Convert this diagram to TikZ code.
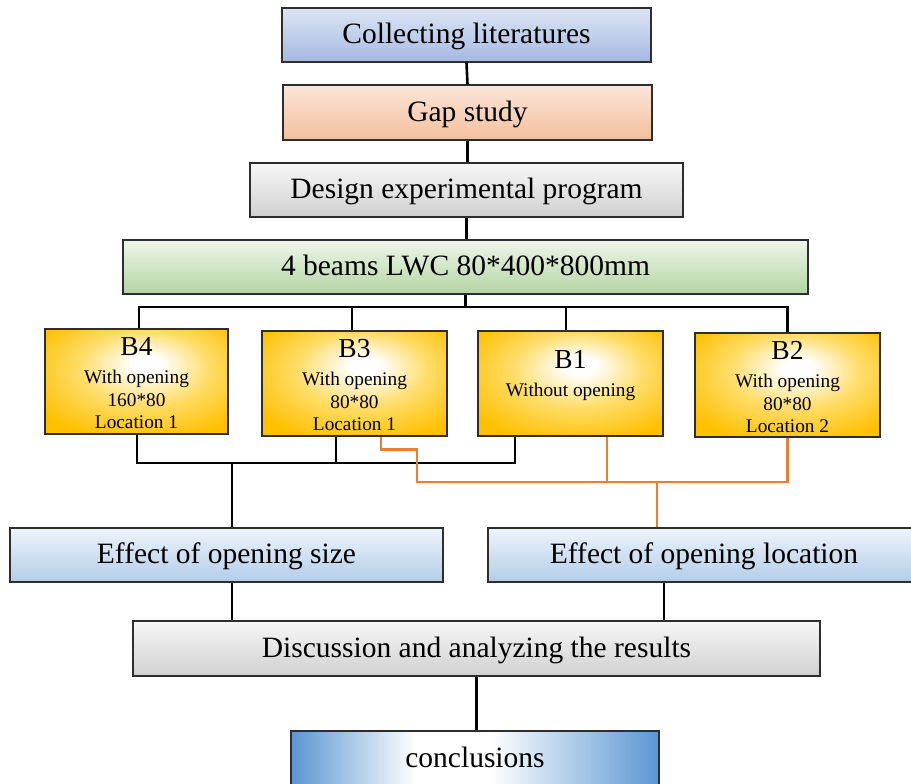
\documentclass[tikz,border=0pt]{standalone}
\usepackage{fontspec}
\setmainfont{Liberation Serif}
\definecolor{boxline}{HTML}{2E2E2E}
\definecolor{litT}{HTML}{DCE5F5}
\definecolor{litB}{HTML}{A4B9E1}
\definecolor{gapT}{HTML}{FBE6D9}
\definecolor{gapB}{HTML}{F4BF9C}
\definecolor{grayT}{HTML}{F7F7F7}
\definecolor{grayB}{HTML}{D0D0D0}
\definecolor{greenT}{HTML}{EFF6EB}
\definecolor{greenB}{HTML}{B3D5A2}
\definecolor{effT}{HTML}{EEF4FB}
\definecolor{effB}{HTML}{B2CDE8}
\definecolor{conclE}{HTML}{5A96D2}
\definecolor{beamO}{HTML}{FFC000}
\definecolor{beamM}{HTML}{FFDC66}
\definecolor{orangeline}{HTML}{ED7D31}
\pgfdeclareradialshading{beamshade}{\pgfpoint{3bp}{9bp}}{color(0bp)=(white); color(4bp)=(white); color(18bp)=(beamM); color(33bp)=(beamO); color(60bp)=(beamO)}
\pgfdeclarehorizontalshading{conclshade}{100bp}{color(0bp)=(conclE); color(25bp)=(conclE); color(42bp)=(white); color(52bp)=(white); color(75bp)=(conclE); color(100bp)=(conclE)}
\tikzset{
  mainbox/.style={draw=boxline, line width=1.2pt, inner sep=0pt,
    text height=17.5pt, text depth=0pt,
    font=\fontsize{29.5}{33}\selectfont},
  vgrad/.style 2 args={top color=#1, bottom color=#2},
  beambox/.style={draw=boxline, line width=1.2pt, inner sep=0pt,
    shading=beamshade},
  beamtxt/.style={inner sep=0pt, align=center, anchor=north,
    font=\fontsize{19.3}{22.5}\selectfont},
  conn/.style={draw=black, line width=2.6pt},
  oconn/.style={draw=orangeline, line width=2.6pt},
}
\newcommand{\Blab}[1]{{\fontsize{27.5}{27.5}\selectfont #1}}
\begin{document}
\begin{tikzpicture}[x=1pt, y=-1pt]
\useasboundingbox (0,0) rectangle (911,784);

% main boxes
\node[mainbox, vgrad={litT}{litB}, minimum width=369, minimum height=54] (lit) at (466.5,35) {Collecting literatures};
\node[mainbox, vgrad={gapT}{gapB}, minimum width=369, minimum height=55] (gap) at (467.5,112.5) {Gap study};
\node[mainbox, vgrad={grayT}{grayB}, minimum width=433, minimum height=54] (design) at (466.5,190) {Design experimental program};
\node[mainbox, vgrad={greenT}{greenB}, minimum width=685, minimum height=54] (beams) at (465.5,267) {4 beams LWC 80*400*800mm};

% beam boxes
\node[beambox, minimum width=183, minimum height=105] (b4) at (136.5,381.5) {};
\node[beambox, minimum width=185, minimum height=105] (b3) at (354.5,383.5) {};
\node[beambox, minimum width=185, minimum height=105] (b1) at (570.5,383.5) {};
\node[beambox, minimum width=185, minimum height=104] (b2) at (787.5,385) {};
\node[beamtxt] (t4) at ([yshift=-9]b4.north) {\Blab{B4}\\[5.5pt]With opening\\160*80\\Location 1};
\node[beamtxt] (t3) at ([yshift=-9]b3.north) {\Blab{B3}\\[5.5pt]With opening\\80*80\\Location 1};
\node[beamtxt] (t1) at ([yshift=-20]b1.north) {\Blab{B1}\\[5.5pt]Without opening};
\node[beamtxt] (t2) at ([yshift=-9]b2.north) {\Blab{B2}\\[5.5pt]With opening\\80*80\\Location 2};

% lower boxes
\node[mainbox, vgrad={effT}{effB}, minimum width=433, minimum height=54] (effsize) at (226.5,555) {Effect of opening size};
\node[mainbox, vgrad={effT}{effB}, minimum width=432, minimum height=54] (effloc) at (704,555) {Effect of opening location};
\node[mainbox, vgrad={grayT}{grayB}, minimum width=687, minimum height=55] (disc) at (476.5,648.5) {Discussion and analyzing the results};
\node[mainbox, shading=conclshade, minimum width=368, minimum height=56] (concl) at (475,759) {conclusions};

% junction coordinates
\coordinate (bus) at (465.5,307);
\coordinate (sbus) at (232,463);
\coordinate (obus) at (657,482);
\coordinate (lbus) at (664,600);

% top chain
\draw[conn] (lit.south) -- (gap.north);
\draw[conn] (gap.south) -- (gap.south |- design.north);
\draw[conn] (design.south) -- (design.south |- beams.north);
\draw[conn] (beams.south) -- (beams.south |- bus);
\draw[conn] ([xshift=2.5]b4.north) |- (b2.north |- bus) -- (b2.north);
\draw[conn] ([xshift=-2.5]b3.north) -- ([xshift=-2.5]b3.north |- bus);
\draw[conn] ([xshift=-4.5]b1.north) -- ([xshift=-4.5]b1.north |- bus);

% opening size branch (black)
\draw[conn] ([xshift=0.5]b4.south) |- ([xshift=-55.5]b1.south |- sbus) -- ([xshift=-55.5]b1.south);
\draw[conn] ([xshift=-18.5]b3.south) -- ([xshift=-18.5]b3.south |- sbus);
\draw[conn] (sbus) -- (sbus |- effsize.north);

% opening location branch (orange)
\draw[oconn] ([xshift=26.5]b3.south) |- ++(36,13) |- (b2.south |- obus) -- (b2.south);
\draw[oconn] ([xshift=36.5]b1.south) -- ([xshift=36.5]b1.south |- obus);
\draw[oconn] (obus) -- (obus |- effloc.north);

% to discussion and conclusions
\draw[conn] (sbus |- effsize.south) -- (sbus |- disc.north);
\draw[conn] (lbus |- effloc.south) -- (lbus |- disc.north);
\draw[conn] (disc.south) -- (disc.south |- concl.north);
\end{tikzpicture}
\end{document}
